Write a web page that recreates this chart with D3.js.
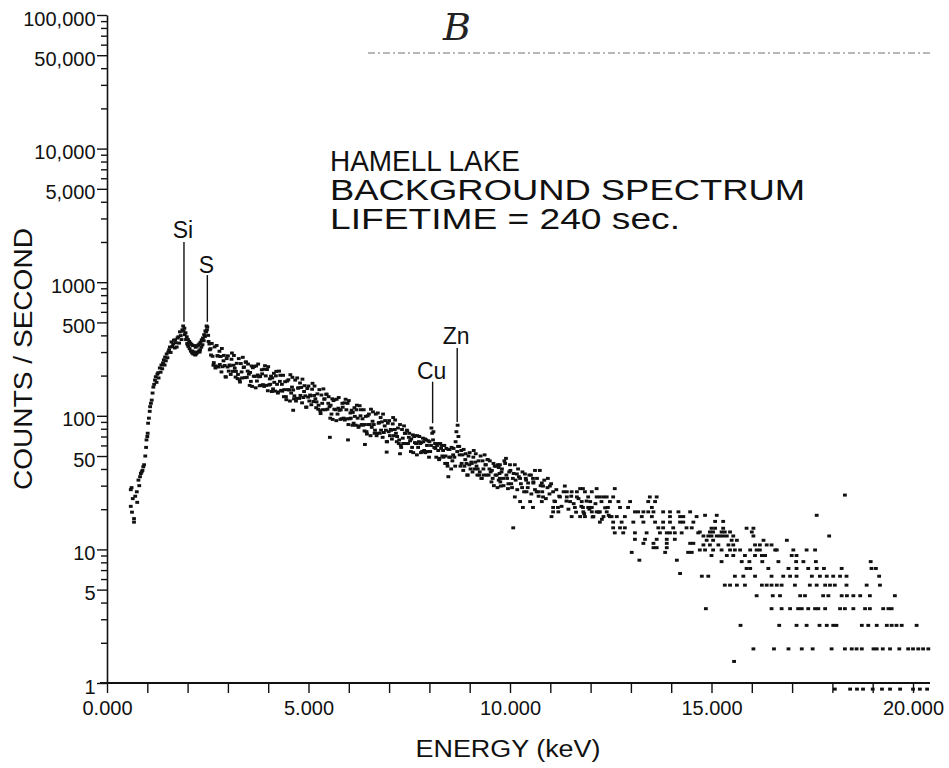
<!DOCTYPE html>
<html><head><meta charset="utf-8">
<script src="https://cdn.jsdelivr.net/npm/d3@7"></script>
<style>
html,body{margin:0;padding:0;background:#fff;}
svg{display:block;font-family:"Liberation Sans",Arial,Helvetica,sans-serif;}
</style></head><body>
<svg id="chart" width="949" height="768"></svg>
<script>
// ---------------- DATA (energy keV, counts / second) ----------------
const riseSegment = [
[0.59,21],[0.59,28],[0.61,29],[0.62,19],[0.64,24],[0.67,17],[0.67,16],[0.70,25],[0.74,27],[0.75,22.5],
[0.78,33],[0.80,30],[0.82,35],[0.84,37],[0.86,38],[0.88,39],[0.90,41.5],[0.92,43],[0.95,50],[0.97,58],
[0.98,66],[1.00,70],[1.01,74],[1.02,88],[1.04,96],[1.06,108],[1.07,117],[1.09,124],[1.11,131],[1.13,148],
[1.15,164],[1.17,172],[1.19,185],[1.21,196],[1.23,178],[1.25,205],[1.27,210],[1.28,192],[1.31,228],[1.33,212],
[1.35,240],[1.37,225],[1.39,249],[1.41,262],[1.43,240],[1.44,275],[1.46,258],[1.48,290],[1.50,272],[1.52,300],
[1.54,312],[1.56,327],[1.58,298],[1.60,357],[1.62,330],[1.64,345],[1.66,368],[1.68,322],[1.69,370],[1.71,352],
[1.73,327],[1.75,382],[1.77,390],[1.79,350],[1.81,425],[1.83,398],[1.85,372],[1.87,440],[1.89,470],[1.90,430]
];
const siliconSulfurSegment = [
[1.92,452],[1.93,405],[1.95,418],[1.96,372],[1.98,390],[1.99,348],[2.01,372],[2.02,330],[2.04,360],[2.05,318],
[2.07,350],[2.08,305],[2.10,342],[2.11,296],[2.13,336],[2.14,290],[2.16,300],[2.17,335],[2.19,285],[2.20,326],
[2.22,292],[2.23,332],[2.25,300],[2.26,338],[2.28,305],[2.29,345],[2.31,312],[2.32,355],[2.34,326],[2.35,370],
[2.37,340],[2.38,382],[2.40,365],[2.41,405],[2.43,392],[2.44,432],[2.46,425],[2.47,470],[2.48,440],[2.49,462],
[2.51,400],[2.52,360],[2.54,345],[2.55,312],[2.57,318],[2.58,285],[2.00,340],[2.12,305],[2.20,290],[2.30,300]
];
const midSegment = [
[2.60,348],[2.62,279],[2.64,239],[2.65,250],[2.67,328],[2.69,228],[2.70,236],[2.72,336],[2.74,282],
[2.75,280],[2.77,232],[2.79,304],[2.80,242],[2.82,278],[2.84,213],[2.85,319],[2.87,233],[2.89,258],
[2.90,283],[2.92,238],[2.94,196],[2.95,195],[2.97,268],[2.99,232],[3.00,281],[3.02,216],[3.04,240],
[3.05,237],[3.07,204],[3.09,265],[3.10,295],[3.12,215],[3.14,239],[3.15,283],[3.17,227],[3.19,195],
[3.20,215],[3.22,247],[3.24,190],[3.25,204],[3.27,268],[3.29,186],[3.30,179],[3.32,246],[3.34,213],
[3.35,192],[3.37,274],[3.39,230],[3.40,232],[3.42,193],[3.44,252],[3.45,253],[3.47,194],[3.49,216],
[3.50,244],[3.52,205],[3.54,169],[3.55,211],[3.57,181],[3.59,236],
[3.60,166],[3.62,229],[3.64,198],[3.65,234],[3.67,197],[3.69,162],[3.70,236],[3.72,182],[3.74,202],
[3.75,244],[3.77,196],[3.79,168],[3.80,197],[3.82,169],[3.84,221],[3.85,206],[3.87,171],[3.89,223],
[3.90,166],[3.92,237],[3.94,199],[3.95,169],[3.97,222],[3.99,154],[4.00,233],[4.02,170],[4.04,189],
[4.05,172],[4.07,198],[4.09,152],[4.10,192],[4.12,159],[4.14,208],[4.15,178],[4.17,153],[4.19,199],
[4.20,215],[4.22,172],[4.24,148],[4.25,151],[4.27,216],[4.29,181],[4.30,201],[4.32,155],[4.34,172],
[4.35,153],[4.37,201],[4.39,139],[4.40,157],[4.42,180],[4.44,139],[4.45,132],[4.47,182],[4.49,157],
[4.50,186],[4.52,156],[4.54,129],[4.55,203],[4.57,148],[4.59,164],
[4.60,194],[4.62,156],[4.64,134],[4.65,141],[4.67,185],[4.69,129],[4.70,135],[4.72,192],[4.74,161],
[4.75,162],[4.77,135],[4.79,176],[4.80,142],[4.82,163],[4.84,125],[4.85,188],[4.87,137],[4.89,152],
[4.90,168],[4.92,141],[4.94,116],[4.95,116],[4.97,160],[4.99,138],[5.00,167],[5.02,129],[5.04,143],
[5.05,141],[5.07,121],[5.09,158],[5.10,175],[5.12,128],[5.14,142],[5.15,167],[5.17,134],[5.19,115],
[5.20,127],[5.22,146],[5.24,112],[5.25,120],[5.27,157],[5.29,109],[5.30,104],[5.32,143],[5.34,124],
[5.35,111],[5.37,159],[5.39,133],[5.40,134],[5.42,111],[5.44,145],[5.45,145],[5.47,112],[5.49,124],
[5.50,139],[5.52,117],[5.54,96],[5.55,120],[5.57,103],[5.59,134],
[5.60,94],[5.62,130],[5.64,112],[5.65,132],[5.67,111],[5.69,92],[5.70,133],[5.72,103],[5.74,114],
[5.75,137],[5.77,110],[5.79,94],[5.80,111],[5.82,95],[5.84,124],[5.85,116],[5.87,96],[5.89,125],
[5.90,93],[5.92,133],[5.94,111],[5.95,95],[5.97,124],[5.99,86],[6.00,130],[6.02,95],[6.04,105],
[6.05,96],[6.07,110],[6.09,85],[6.10,106],[6.12,88],[6.14,115],[6.15,99],[6.17,85],[6.19,111],
[6.20,120],[6.22,96],[6.24,82],[6.25,84],[6.27,119],[6.29,100],[6.30,111],[6.32,86],[6.34,95],
[6.35,85],[6.37,111],[6.39,77],[6.40,86],[6.42,99],[6.44,76],[6.45,73],[6.47,100],[6.49,86],
[6.50,103],[6.52,86],[6.54,71],[6.55,112],[6.57,82],[6.59,91],
[6.60,107],[6.62,86],[6.64,74],[6.65,78],[6.67,103],[6.69,71],[6.70,74],[6.72,105],[6.74,88],
[6.75,89],[6.77,74],[6.79,97],[6.80,78],[6.82,90],[6.84,69],[6.85,103],[6.87,75],[6.89,84],
[6.90,92],[6.92,78],[6.94,64],[6.95,64],[6.97,88],[6.99,76],[7.00,92],[7.02,71],[7.04,79],
[7.05,78],[7.07,67],[7.09,87],[7.10,97],[7.12,71],[7.14,79],[7.15,93],[7.17,74],[7.19,64],
[7.20,70],[7.22,81],[7.24,62],[7.25,66],[7.27,86],[7.29,60],[7.30,58],[7.32,79],[7.34,68],
[7.35,62],[7.37,84],[7.39,74],[7.40,74],[7.42,62],[7.44,78],[7.45,77],[7.47,62],[7.49,69],
[7.50,74],[7.52,65],[7.54,54],[7.55,67],[7.57,58],[7.59,72],
[7.60,53],[7.62,70],[7.64,63],[7.65,71],[7.67,62],[7.69,51],[7.70,71],[7.72,58],[7.74,64],
[7.75,70],[7.77,62],[7.79,53],[7.80,63],[7.82,54],[7.84,68],[7.85,64],[7.87,55],[7.89,67],
[7.90,53],[7.92,66],[7.94,60],[7.95,54],[7.97,65],[7.99,49],[8.00,64],[8.02,54],[8.04,60],
[8.05,81],[8.07,74],[8.09,66],[8.10,76],[8.12,58],[8.14,62],[8.15,57],[8.17,49],[8.19,60],
[8.20,62],[8.22,55],[8.24,47],[8.25,48],[8.27,62],[8.29,57],[8.30,60],[8.32,50],[8.34,55],
[8.35,49],[8.37,60],[8.39,44],[8.40,50],[8.42,57],[8.44,44],[8.45,42],[8.47,56],[8.49,49],
[8.50,56],[8.52,49],[8.54,40],[8.55,58],[8.57,46],[8.59,51],
[8.60,57],[8.62,49],[8.64,42],[8.65,64],[8.67,76],[8.69,54],[8.70,85],[8.72,70],[8.74,59],
[8.75,51],[8.77,42],[8.79,55],[8.80,44],[8.82,51],[8.84,39],[8.85,56],[8.87,42],[8.89,47],
[8.90,52],[8.92,44],[8.94,36],[8.95,36],[8.97,50],[8.99,43],[9.00,53],[9.02,40],[9.04,45],
[9.05,44],[9.07,38],[9.09,49],[9.10,55],[9.12,40],[9.14,45],[9.15,52],[9.17,42],[9.19,36],
[9.20,40],[9.22,46],[9.24,36],[9.25,38],[9.27,50],[9.29,34],[9.30,34],[9.32,46],[9.34,40],
[9.35,36],[9.37,51],[9.39,43],[9.40,43],[9.42,36],[9.44,47],[9.45,47],[9.47,36],[9.49,40],
[9.50,46],[9.52,38],[9.54,32],[9.55,39],[9.57,34],[9.59,44],[9.60,30],[9.62,42],[9.64,36],
[9.65,42],[9.67,36],[9.69,29],[9.70,43],[9.72,33],[9.74,37],
[4.62,110],[5.53,69],[5.98,66],[6.40,61],[6.94,53.5],[7.27,52],[8.47,35],[8.71,59]
];
const bandNearTenKeV = [
[9.72,41],[9.76,32],[9.79,38],[9.84,30],[9.88,44],[9.91,36],[9.96,31],[10.01,39],[10.05,29],[10.09,37],
[10.14,33],[10.18,28],[10.22,35],[10.27,31],[10.31,38],[10.35,27],[10.39,34],[10.44,29],[10.48,36],[10.53,26],
[10.58,32],[10.62,28],[10.67,34],[10.71,25],[10.76,30],[10.80,27],[10.85,33],[10.89,24],[10.93,29],[10.98,26],
[11.02,31],[11.10,23],[11.15,28],[11.22,25],[11.28,21],[11.33,27],[11.40,23],[11.45,20],[11.52,25],[11.58,22],
[11.64,19],[11.70,24],[11.77,21],[11.84,18.5],[11.90,23],[11.97,20],[12.05,17.5],[12.12,22],[12.20,19],[12.28,16.8],
[12.36,20.5],[12.45,18]
];
const upperTailSegment = [
[9.90,48],[9.75,43],[10.00,43],[10.12,43],[10.62,39],[10.74,39],[10.17,36.7],[10.37,36.7],
[9.80,40],[9.86,46],[9.98,38],[10.03,31],[10.20,40],[10.30,29],[10.40,33],[10.52,36],
[9.75,34],[9.83,34],[9.93,34],[10.07,34],[10.25,34],[10.57,34],[10.94,34],
[10.45,31.4],[10.58,31.4],[10.79,31.4],
[9.77,29.8],[10.82,29.8],[10.99,29.8],[11.36,29.8],
[9.95,28.5],[11.74,28.5],[11.81,28.5],[12.15,28.5],[12.60,28.5],
[10.41,27],[10.66,27],[10.70,27],[11.07,27],[11.41,27],[11.53,27],[11.66,27],[11.86,27],[12.03,27],
[10.12,24.7],[10.82,24.7],[11.24,24.7],[11.41,24.7],[11.66,24.7],[11.94,24.7],[12.15,24.7],[12.23,24.7],[12.32,24.7],[12.40,24.7],[12.56,24.7],[13.47,24.7],[13.64,24.7],
[10.25,22.8],[10.50,22.8],[10.79,22.8],[11.12,22.8],[11.49,22.8],[11.78,22.8],[11.99,22.8],[12.27,22.8],[12.48,22.8],[12.69,22.8],[12.98,22.8],[13.43,22.8],[13.60,22.8],
[10.32,20.6],[10.57,20.6],[11.07,20.6],[11.19,20.6],[11.61,20.6],[11.81,20.6],[11.94,20.6],[12.03,20.6],[12.43,20.6],[12.73,20.6],[12.93,20.6],[13.52,20.6],
[11.07,19.1],[11.20,19.1],[11.82,19.1],[12.03,19.1],[12.15,19.1],[12.23,19.1],[12.40,19.1],[13.10,19.1],[13.18,19.1],[13.31,19.1],[13.43,19.1],[13.56,19.1],[13.80,19.1],[13.97,19.1],[14.18,19.1],[14.47,19.1],
[11.03,17.6],[11.53,17.6],[11.74,17.6],[11.86,17.6],[12.07,17.6],[12.32,17.6],[12.48,17.6],[12.52,17.6],[12.65,17.6],[12.85,17.6],[13.27,17.6],[13.52,17.6],[13.97,17.6],[14.22,17.6],[14.30,17.6],[14.63,17.6],
[12.23,16],[12.56,16],[12.77,16],[13.06,16],[13.31,16],[13.60,16],[13.80,16],[13.97,16],[14.22,16],[14.30,16],[14.55,16],
[10.08,14.5],[12.56,14.5],[12.73,14.5],[12.85,14.5],[13.68,14.5],[13.80,14.5],[14.05,14.5],[14.38,14.5],[14.51,14.5],
[12.60,13.3],[12.81,13.3],[13.10,13.3],[13.39,13.3],[13.72,13.3],[13.89,13.3],[13.97,13.3],[14.09,13.3],[14.26,13.3],[14.67,13.3],
[13.10,11.9],[13.35,11.9],[13.64,11.9],[13.89,11.9],[14.09,11.9],
[13.31,11.1],[13.56,11.1],[13.89,11.1],[14.47,11.1],[14.55,11.1],
[13.56,10.3],[13.64,10.3],[13.89,10.3],
[13.02,9.5],[13.85,9.5],[14.42,9.5],[14.51,9.5],
[13.21,8.3],[14.14,8.3],[14.22,6.6]
];
const lowerTailSegment = [
[18.06,0.9],[18.44,0.9],[18.61,0.9],[18.76,0.9],[19.00,0.9],[19.23,0.9],[19.43,0.9],[19.68,0.9],[20.00,0.9],[20.17,0.9],[20.35,0.9],
[16.04,1.8],[16.55,1.8],[16.91,1.8],[17.24,1.8],[17.51,1.8],[17.98,1.8],[18.31,1.8],[18.48,1.8],[18.60,1.8],[18.73,1.8],[19.02,1.8],[19.10,1.8],[19.25,1.8],[19.43,1.8],[19.66,1.8],[19.88,1.8],[20.00,1.8],[20.13,1.8],[20.25,1.8],[20.38,1.8],
[15.72,2.7],[16.68,2.7],[17.11,2.7],[17.36,2.7],[17.68,2.7],[17.86,2.7],[18.02,2.7],[18.10,2.7],[18.73,2.7],[18.89,2.7],[19.10,2.7],[19.35,2.7],[19.47,2.7],[19.59,2.7],[19.72,2.7],[20.09,2.7],
[14.86,3.6],[16.49,3.6],[16.74,3.6],[16.95,3.6],[17.15,3.6],[17.24,3.6],[17.40,3.6],[17.57,3.6],[17.65,3.6],[17.82,3.6],[18.19,3.6],[18.31,3.6],[18.52,3.6],[18.81,3.6],[18.93,3.6],[19.26,3.6],[19.39,3.6],[19.47,3.6],
[16.12,4.5],[16.52,4.5],[16.70,4.5],[17.20,4.5],[17.32,4.5],[17.77,4.5],[17.90,4.5],[18.23,4.5],[18.36,4.5],[18.52,4.5],[18.69,4.5],[18.93,4.5],[19.55,4.5],
[15.33,5.4],[15.46,5.4],[15.63,5.4],[15.83,5.4],[16.25,5.4],[16.37,5.4],[16.49,5.4],[16.62,5.4],[16.74,5.4],[17.07,5.4],[17.44,5.4],[17.61,5.4],[17.82,5.4],[17.94,5.4],[18.06,5.4],[18.35,5.4],[18.85,5.4],[19.18,5.4],
[14.76,6.3],[14.92,6.3],[15.58,6.3],[15.79,6.3],[16.08,6.3],[16.49,6.3],[16.78,6.3],[16.95,6.3],[17.11,6.3],[17.49,6.3],[17.69,6.3],[17.86,6.3],[18.02,6.3],[18.19,6.3],[18.35,6.3],[19.16,6.3],
[15.87,7.2],[15.96,7.2],[16.41,7.2],[16.91,7.2],[17.11,7.2],[17.40,7.2],[17.61,7.2],[17.79,7.2],[18.23,7.2],[18.97,7.2],[19.08,7.2],
[15.25,8.1],[15.75,8.1],[15.94,8.1],[16.26,8.1],[16.66,8.1],[17.10,8.1],[17.28,8.1],[17.59,8.1],[18.95,8.1],
[15.00,9.0],[15.38,9.0],[15.54,9.0],[15.83,9.0],[16.08,9.0],[16.25,9.0],[16.33,9.0],[16.99,9.0],[17.11,9.0],
[14.71,9.9],[14.84,9.9],[15.04,9.9],[15.25,9.9],[15.46,9.9],[15.58,9.9],[15.71,9.9],[15.96,9.9],[16.12,9.9],[16.20,9.9],[16.58,9.9],[16.62,9.9],[17.03,9.9],[17.36,9.9],[17.57,9.9],
[14.80,10.8],[14.96,10.8],[15.17,10.8],[15.42,10.8],[15.54,10.8],[16.08,10.8],[16.20,10.8],[16.37,10.8],[16.49,10.8],
[14.88,11.7],[15.04,11.7],[15.50,11.7],[15.63,11.7],[16.29,11.7],[16.87,11.7],
[14.80,12.6],[14.92,12.6],[15.00,12.6],[15.13,12.6],[15.21,12.6],[15.29,12.6],[15.38,12.6],[15.54,12.6],[16.04,12.6],[17.92,12.6],
[14.71,13.5],[14.96,13.5],[15.04,13.5],[15.25,13.5],[15.33,13.5],[15.46,13.5],[16.00,13.5],
[15.00,14.4],[15.09,14.4],[15.29,14.4],[15.87,14.4],[16.04,14.4],
[15.09,16.2],[15.29,16.2],[14.84,18],[15.13,18],[17.61,18],
[18.31,25.5],[15.56,1.45]
];

// Peak annotations
const peakNames = ["Si", "S", "Cu", "Zn"];
const peakEnergy = [1.91, 2.49, 8.08, 8.69];
const peakLineTop = [2000, 1130, 180, 322];
const peakLineBottom = [505, 505, 88, 90];
const peakLabelValue = [2150, 1180, 188, 345];

// Axis ticks
const xTickValues = [0,1,2,3,4,5,6,7,8,9,10,11,12,13,14,15,16,17,18,19,20];
const xTickLabels = {0:"0.000", 5:"5.000", 10:"10.000", 15:"15.000", 20:"20.000"};
const yLabeledTicks = [1,5,10,50,100,500,1000,5000,10000,50000,100000];
const yTickLabels = ["1","5","10","50","100","500","1000","5,000","10,000","50,000","100,000"];

const titleLines = ["HAMELL LAKE", "BACKGROUND SPECTRUM", "LIFETIME = 240 sec."];
const titleWidths = [190, 475, 350];
const xAxisTitle = "ENERGY (keV)";
const yAxisTitle = "COUNTS / SECOND";
const cornerMark = "B";

// ---------------- DRAWING ----------------
const svg = d3.select("#chart");
const ink = "#111";

const x = d3.scaleLinear().domain([0, 20]).range([107, 913]);
const y = d3.scaleLog().domain([1, 100000]).range([683, 15]);

// faint dashed scan line near top
svg.append("line")
  .attr("x1", 368).attr("x2", 930).attr("y1", 53).attr("y2", 53)
  .attr("stroke", "#444").attr("stroke-width", 1.1)
  .attr("stroke-dasharray", "7,3,2,3").attr("opacity", 0.75);

// handwritten mark
svg.append("text")
  .attr("x", 457).attr("y", 40)
  .attr("text-anchor", "middle")
  .attr("font-family", "'DejaVu Serif', serif")
  .attr("font-style", "italic")
  .attr("font-size", 38)
  .attr("fill", "#222")
  .text(cornerMark);

// Y axis
const yLabelMap = new Map(yLabeledTicks.map((v, i) => [v, yTickLabels[i]]));
const yTickVals = y.ticks();
const yAxis = d3.axisLeft(y)
  .tickValues(yTickVals)
  .tickFormat(d => yLabelMap.has(d) ? yLabelMap.get(d) : "")
  .tickSize(10).tickSizeOuter(0).tickPadding(1.5);
const gy = svg.append("g").attr("transform", "translate(107,0)").call(yAxis);
gy.select(".domain").attr("stroke", ink).attr("stroke-width", 1.6);
gy.selectAll(".tick line")
  .attr("stroke", ink).attr("stroke-width", 1.4)
  .attr("x2", d => yLabelMap.has(d) ? -10 : -6);
gy.selectAll(".tick text")
  .attr("fill", ink).attr("font-size", 20)
  .attr("font-family", "'Liberation Sans', Arial, sans-serif")
  .attr("dy", "0.5em");

// X axis
const xAxis = d3.axisBottom(x)
  .tickValues(xTickValues)
  .tickFormat(d => xTickLabels[d] || "")
  .tickSize(10).tickSizeOuter(0).tickPadding(8);
const gx = svg.append("g").attr("transform", "translate(0,683)").call(xAxis);
gx.select(".domain").remove();
gx.append("line").attr("x1", 100).attr("x2", 930).attr("y1", 0).attr("y2", 0)
  .attr("stroke", ink).attr("stroke-width", 1.8);
gx.selectAll(".tick line").attr("stroke", ink).attr("stroke-width", 1.4);
gx.selectAll(".tick text")
  .attr("fill", ink).attr("font-size", 20)
  .attr("font-family", "'Liberation Sans', Arial, sans-serif");

// Axis titles
svg.append("text")
  .attr("x", 508).attr("y", 757)
  .attr("text-anchor", "middle")
  .attr("font-size", 23).attr("fill", ink)
  .attr("textLength", 185).attr("lengthAdjust", "spacingAndGlyphs")
  .text(xAxisTitle);

svg.append("text")
  .attr("transform", "translate(32,359) rotate(-90)")
  .attr("text-anchor", "middle")
  .attr("font-size", 26).attr("fill", ink)
  .attr("textLength", 262).attr("lengthAdjust", "spacingAndGlyphs")
  .text(yAxisTitle);

// Title block
svg.append("g").selectAll("text").data(titleLines).join("text")
  .attr("x", 330).attr("y", (d, i) => 171 + i * 29)
  .attr("font-size", 29).attr("fill", ink)
  .attr("textLength", (d, i) => titleWidths[i]).attr("lengthAdjust", "spacingAndGlyphs")
  .text(d => d);

// Spectrum points
const allPoints = [].concat(riseSegment, siliconSulfurSegment, midSegment, bandNearTenKeV, upperTailSegment, lowerTailSegment);
svg.append("g").selectAll("rect").data(allPoints).join("rect")
  .attr("x", d => x(d[0]) - 1.9)
  .attr("y", d => y(d[1]) - 1.5)
  .attr("width", 3.8).attr("height", 3.0)
  .attr("fill", ink);

// Peak markers
const peaks = peakNames.map((n, i) => ({name: n, e: peakEnergy[i], top: peakLineTop[i], bottom: peakLineBottom[i], label: peakLabelValue[i]}));
const pg = svg.append("g");
pg.selectAll("line").data(peaks).join("line")
  .attr("x1", d => x(d.e)).attr("x2", d => x(d.e))
  .attr("y1", d => y(d.top)).attr("y2", d => y(d.bottom))
  .attr("stroke", ink).attr("stroke-width", 1.4);
pg.selectAll("text").data(peaks).join("text")
  .attr("x", d => x(d.e) - 1).attr("y", d => y(d.label))
  .attr("text-anchor", "middle")
  .attr("font-size", 23).attr("fill", ink)
  .text(d => d.name);
</script>
</body></html>
